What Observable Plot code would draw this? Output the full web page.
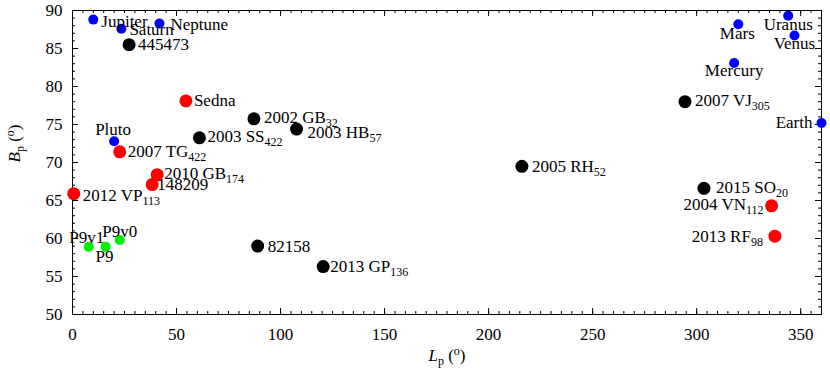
<!DOCTYPE html>
<html><head><meta charset="utf-8">
<script src="https://cdn.jsdelivr.net/npm/d3@7"></script>
<script src="https://cdn.jsdelivr.net/npm/@observablehq/plot@0.6"></script>
<style>body{margin:0;background:#fff} svg{display:block} svg text{font-family:'Liberation Serif','Times New Roman',serif}</style>
</head><body><div id="chart"></div>
<script>
// ---- data ----
const planetNames = ["Jupiter","Saturn","Neptune","Pluto","Mars","Uranus","Venus","Mercury","Earth"];
const planetL = [10, 23.5, 41.8, 20, 320, 344, 347, 318, 360];
const planetB = [88.8, 87.6, 88.3, 72.8, 88.2, 89.3, 86.7, 83.1, 75.2];

const redNames = ["Sedna","2007 TG_{422}","2010 GB_{174}","148209","2012 VP_{113}","2004 VN_{112}","2013 RF_{98}"];
const redL = [54.5, 22.7, 40.7, 38.3, 0.6, 336, 337.6];
const redB = [78.1, 71.4, 68.4, 67.1, 65.9, 64.3, 60.3];

const blackNames = ["445473","2002 GB_{32}","2003 SS_{422}","2003 HB_{57}","2007 VJ_{305}","2005 RH_{52}","2015 SO_{20}","82158","2013 GP_{136}"];
const blackL = [27.2, 87.2, 61, 107.7, 294.4, 216, 303.5, 89, 120.5];
const blackB = [85.5, 75.75, 73.25, 74.4, 78.0, 69.5, 66.6, 59.0, 56.3];

const p9Names = ["P9v1","P9","P9v0"];
const p9L = [7.8, 15.9, 22.7];
const p9B = [58.9, 58.9, 59.8];

const xTicks = [0, 50, 100, 150, 200, 250, 300, 350];
const yTicks = [50, 55, 60, 65, 70, 75, 80, 85, 90];
const xLabel = "*L*_{p} (^{o})";
const yLabel = "*B*_{p} (^{o})";

// ---- label placement (style) ----
const place = {
  "Jupiter": ["start", 8, 2], "Saturn": ["start", 8, 1], "Neptune": ["start", 11, 1],
  "Pluto": ["middle", -1, -12], "Mars": ["middle", -1, 9], "Uranus": ["middle", 0, 9],
  "Venus": ["middle", 0, 8], "Mercury": ["middle", 0, 8], "Earth": ["end", -9, 0],
  "Sedna": ["start", 8, 0], "2007 TG_{422}": ["start", 8, 0], "2010 GB_{174}": ["start", 7, -1],
  "148209": ["start", 5, 0], "2012 VP_{113}": ["start", 9, 2], "2004 VN_{112}": ["end", -8, -1],
  "2013 RF_{98}": ["end", -12, 0], "445473": ["start", 9, 0], "2002 GB_{32}": ["start", 10, -1],
  "2003 SS_{422}": ["start", 8, -1], "2003 HB_{57}": ["start", 11, 3], "2007 VJ_{305}": ["start", 10, -1],
  "2005 RH_{52}": ["start", 10, 0], "2015 SO_{20}": ["start", 12, -1], "82158": ["start", 10, 0],
  "2013 GP_{136}": ["start", 7, 0], "P9v1": ["middle", -2, -9], "P9": ["middle", -1, 10],
  "P9v0": ["middle", 0, -8]
};

function rows(names, L, B, group) { return names.map((n, i) => ({name: n, L: L[i], B: B[i], group})); }
const planets = rows(planetNames, planetL, planetB, "planet");
const reds = rows(redNames, redL, redB, "red");
const blacks = rows(blackNames, blackL, blackB, "black");
const p9s = rows(p9Names, p9L, p9B, "p9");
const all = [...planets, ...reds, ...blacks, ...p9s];

const FONT = "'Liberation Serif', 'Times New Roman', serif";
const W = 830, H = 376, mL = 72, mR = 9, mT = 10, mB = 62;
const pW = W - mL - mR, pH = H - mT - mB;
const xMinor = d3.range(0, 361, 5), yMinor = d3.range(50, 91, 1);
const tickStyle = {stroke: "black", strokeWidth: 1};

const labelMarks = all.map(d => {
  const [a, dx, dy] = place[d.name];
  return Plot.text([d], {x: "L", y: "B", text: "name", textAnchor: a, dx, dy, fill: "black", fontFamily: FONT, fontSize: 17});
});

const plot = Plot.plot({
  width: W, height: H,
  marginLeft: mL, marginRight: mR, marginTop: mT, marginBottom: mB,
  x: {domain: [0, 360]},
  y: {domain: [50, 90]},
  style: {fontFamily: FONT, fontSize: "17px", background: "white", color: "black"},
  marks: [
    Plot.frame({stroke: "black"}),
    // minor / major ticks, inward, on all four sides
    Plot.tickX(xMinor, {x: d => d, insetTop: pH - 3, ...tickStyle}),
    Plot.tickX(xMinor, {x: d => d, insetBottom: pH - 3, ...tickStyle}),
    Plot.tickX(xTicks, {x: d => d, insetTop: pH - 6, ...tickStyle}),
    Plot.tickX(xTicks, {x: d => d, insetBottom: pH - 6, ...tickStyle}),
    Plot.tickY(yMinor, {y: d => d, insetRight: pW - 3, ...tickStyle}),
    Plot.tickY(yMinor, {y: d => d, insetLeft: pW - 3, ...tickStyle}),
    Plot.tickY(yTicks, {y: d => d, insetRight: pW - 6, ...tickStyle}),
    Plot.tickY(yTicks, {y: d => d, insetLeft: pW - 6, ...tickStyle}),
    Plot.axisX({ticks: xTicks, tickSize: 0, tickPadding: 13, label: null, tickFormat: d => String(d), fontFamily: FONT, fontSize: 17, fontVariant: "normal"}),
    Plot.axisY({ticks: yTicks, tickSize: 0, tickPadding: 10, label: null, tickFormat: d => String(d), fontFamily: FONT, fontSize: 17, fontVariant: "normal"}),
    Plot.dot(planets, {x: "L", y: "B", r: 5, fill: "#0000ff", stroke: null}),
    Plot.dot(p9s, {x: "L", y: "B", r: 5, fill: "#00ee00", stroke: null}),
    Plot.dot(reds, {x: "L", y: "B", r: 6.5, fill: "#ff0000", stroke: null}),
    Plot.dot(blacks, {x: "L", y: "B", r: 6.5, fill: "#000000", stroke: null}),
    ...labelMarks,
    Plot.text([xLabel], {frameAnchor: "bottom", text: d => d, dy: 46, fontFamily: FONT, fontSize: 17}),
    Plot.text([yLabel], {frameAnchor: "left", text: d => d, dx: -58, rotate: -90, fontFamily: FONT, fontSize: 17})
  ]
});

// rich text: *italic*, _{sub}, ^{sup}
const NS = "http://www.w3.org/2000/svg";
function richify(el) {
  const s = el.textContent;
  if (!/[_^*]/.test(s)) return;
  el.textContent = "";
  const parts = s.match(/(_\{[^}]*\}|\^\{[^}]*\}|\*[^*]*\*|[^_^*]+)/g);
  let shift = 0;
  for (const p of parts) {
    const t = document.createElementNS(NS, "tspan");
    let target = 0, txt = p;
    if (p[0] === "_") { target = 4; txt = p.slice(2, -1); t.setAttribute("font-size", "12px"); }
    else if (p[0] === "^") { target = -6; txt = p.slice(2, -1); t.setAttribute("font-size", "12px"); }
    else if (p[0] === "*") { txt = p.slice(1, -1); t.setAttribute("font-style", "italic"); }
    if (target !== shift) { t.setAttribute("dy", target - shift); shift = target; }
    t.textContent = txt;
    el.appendChild(t);
  }
}
plot.querySelectorAll("text").forEach(richify);
document.getElementById("chart").appendChild(plot);
</script>
</body></html>
